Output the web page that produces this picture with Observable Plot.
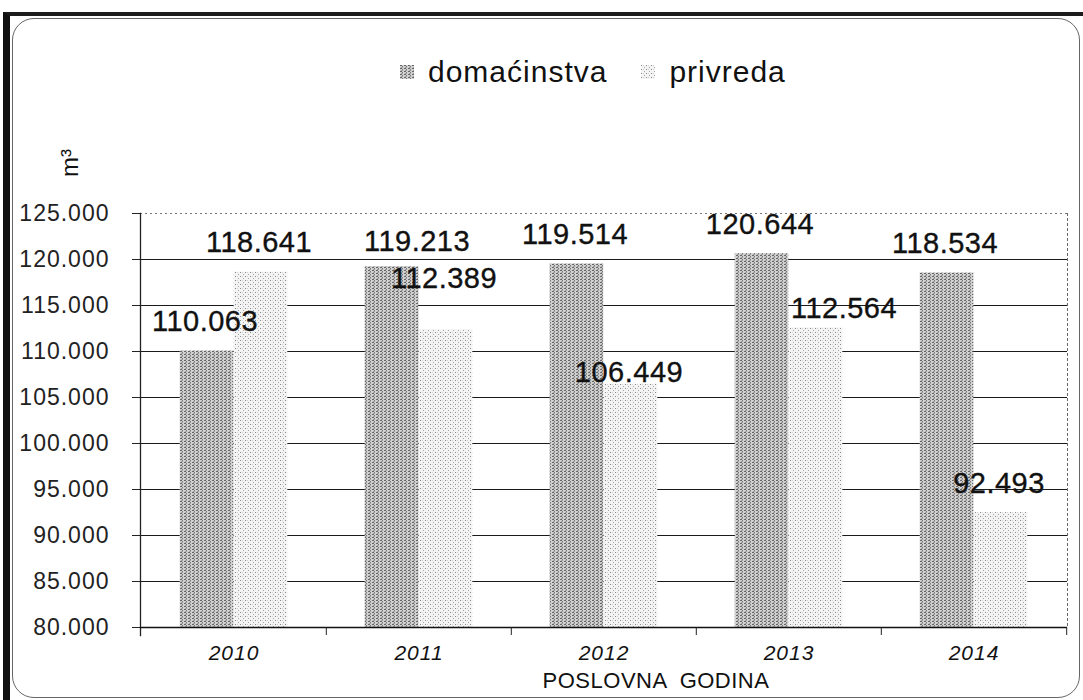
<!DOCTYPE html>
<html>
<head>
<meta charset="utf-8">
<script src="https://cdn.jsdelivr.net/npm/d3@7"></script>
<script src="https://cdn.jsdelivr.net/npm/@observablehq/plot@0.6"></script>
<style>
  html, body { margin: 0; padding: 0; background: #fff; }
  #page { position: relative; width: 1083px; height: 700px; overflow: hidden;
          font-family: "Liberation Sans", Arial, sans-serif; color: #111; }
  #outer { position: absolute; left: 3px; top: 12px; width: 1080px; height: 700px;
           border-top: 4px solid #1c1c1c; border-left: 7px solid #111; box-sizing: border-box; }
  #inner { position: absolute; left: 12px; top: 18px; width: 1068px; height: 680px;
           border: 1.5px solid #666; border-radius: 22px; box-sizing: border-box; }
  #legend { position: absolute; top: 57px; left: 400px; height: 30px; line-height: 30px;
            font-size: 30px; letter-spacing: 1px; display: flex; align-items: center; white-space: nowrap; }
  #legend .sw { display: inline-block; width: 14px; height: 14px; margin-right: 14px; }
  #legend .sw svg { display: block; }
  #unit { position: absolute; left: 50px; top: 148px; width: 40px; height: 30px; line-height: 30px;
          font-size: 24px; text-align: center; transform: rotate(-90deg); transform-origin: 50% 50%; }
  #chart { position: absolute; left: 0; top: 0; }
  g[aria-label="y-axis tick label"] text { letter-spacing: 1px; }
  g[aria-label="x-axis tick label"] text { letter-spacing: 1px; }
  g[aria-label="text"] text { letter-spacing: 0.5px; }
</style>
</head>
<body>
<div id="page">
  <div id="outer"></div>
  <div id="inner"></div>
  <div id="legend"></div>
  <div id="unit">m³</div>
  <div id="chart"></div>
</div>
<script>
// ---- data ----
const years = ["2010", "2011", "2012", "2013", "2014"];
const seriesNames = ["domaćinstva", "privreda"];
const domacinstva = [110063, 119213, 119514, 120644, 118534];
const privreda = [118641, 112389, 106449, 112564, 92493];
const yTicks = [80000, 85000, 90000, 95000, 100000, 105000, 110000, 115000, 120000, 125000];
const xAxisLabel = "POSLOVNA  GODINA";

// ---- layout ----
const W = 1083, H = 700, mL = 140, mR = 16, mT = 213, mB = 73;
const band = (W - mL - mR) / years.length;
const barW = 54;
const outerPad = (band - 2 * barW) / 2;
const plotH = H - mT - mB;

const fmt = v => (v / 1000).toFixed(3);
const rowsD = years.map((year, i) => ({year, series: seriesNames[0], value: domacinstva[i]}));
const rowsP = years.map((year, i) => ({year, series: seriesNames[1], value: privreda[i]}));
const fills = {[seriesNames[0]]: "url(#patD)", [seriesNames[1]]: "url(#patP)"};

// label placement tweaks (as in the original chart)
const labelAdjust = {
  "domaćinstva|2011": {dx: 25, gap: 16},
  "privreda|2011": {gap: 42},
  "privreda|2012": {gap: 2},
  "privreda|2013": {dx: 28, gap: 10}
};
const labelMarks = [...rowsD, ...rowsP].map(r => {
  const a = labelAdjust[r.series + "|" + r.year] || {};
  const center = r.series === seriesNames[0] ? -barW / 2 : barW / 2;
  return Plot.text([r], {
    x: "year", y: "value", text: d => fmt(d.value),
    dx: center + (a.dx ?? -2), dy: -(a.gap ?? 20),
    lineAnchor: "bottom", fontSize: 29, fill: "#111", stroke: "#111", strokeWidth: 0.35
  });
});

const chart = Plot.plot({
  width: W, height: H,
  marginLeft: mL, marginRight: mR, marginTop: mT, marginBottom: mB,
  style: {background: "transparent", overflow: "visible", fontFamily: "Liberation Sans, Arial, sans-serif", color: "#111"},
  x: {type: "band", domain: years, padding: 0, axis: null},
  y: {domain: [yTicks[0], yTicks[yTicks.length - 1]], axis: null},
  marks: [
    Plot.ruleY(yTicks.slice(1, -1), {stroke: "#1a1a1a", strokeWidth: 1.1}),
    Plot.ruleY([yTicks[yTicks.length - 1]], {stroke: "#777", strokeDasharray: "2,3"}),
    Plot.frame({anchor: "right", stroke: "#666", strokeDasharray: "2,3"}),
    Plot.barY(rowsD, {x: "year", y1: yTicks[0], y2: "value", fill: fills[seriesNames[0]],
      insetLeft: outerPad, insetRight: outerPad + barW}),
    Plot.barY(rowsP, {x: "year", y1: yTicks[0], y2: "value", fill: fills[seriesNames[1]],
      insetLeft: outerPad + barW, insetRight: outerPad}),
    Plot.frame({anchor: "left", stroke: "#222", strokeWidth: 1.3, insetBottom: -8}),
    Plot.ruleY([yTicks[0]], {stroke: "#111", strokeWidth: 1.6}),
    Plot.tickX(years.slice(1), {x: d => d, dx: -band / 2, insetTop: plotH, insetBottom: -8, stroke: "#222"}),
    Plot.tickX([years[years.length - 1]], {x: d => d, dx: band / 2, insetTop: plotH, insetBottom: -8, stroke: "#222"}),
    Plot.axisY({ticks: yTicks, tickFormat: fmt, tickSize: 8, tickPadding: 23, fontSize: 23, label: null, fill: "#222", stroke: "#222"}),
    Plot.axisX({tickSize: 0, tickPadding: 18, fontSize: 21, fontStyle: "italic", label: null, fill: "#111"}),
    Plot.text([xAxisLabel], {frameAnchor: "bottom", dx: 52, dy: 45, lineAnchor: "top", fontSize: 22, fill: "#111"}),
    ...labelMarks
  ]
});

// textures for the bars
d3.select(chart).insert("defs", ":first-child").html(`
  <pattern id="patD" patternUnits="userSpaceOnUse" width="4" height="3">
    <rect width="4" height="3" fill="#d0d0d0"/>
    <rect x="0" y="0" width="2" height="1" fill="#666"/>
    <rect x="2" y="1" width="1" height="1" fill="#7a7a7a"/>
    <rect x="1" y="2" width="2" height="1" fill="#a0a0a0"/>
  </pattern>
  <pattern id="patP" patternUnits="userSpaceOnUse" width="5" height="4">
    <rect width="5" height="4" fill="#f4f4f4"/>
    <rect x="0" y="0" width="1" height="1" fill="#8a8a8a"/>
    <rect x="3" y="2" width="1" height="1" fill="#a5a5a5"/>
    <rect x="2" y="0" width="1" height="1" fill="#d0d0d0"/>
  </pattern>`);
document.getElementById("chart").appendChild(chart);

// legend
const legend = d3.select("#legend");
seriesNames.forEach((name, i) => {
  const item = legend.append("span").style("display", "inline-flex").style("align-items", "center")
    .style("margin-right", i === 0 ? "34px" : "0");
  item.append("span").attr("class", "sw")
    .html(`<svg width="14" height="14"><rect width="14" height="14" fill="${fills[name]}"/></svg>`);
  item.append("span").text(name);
});
</script>
</body>
</html>
